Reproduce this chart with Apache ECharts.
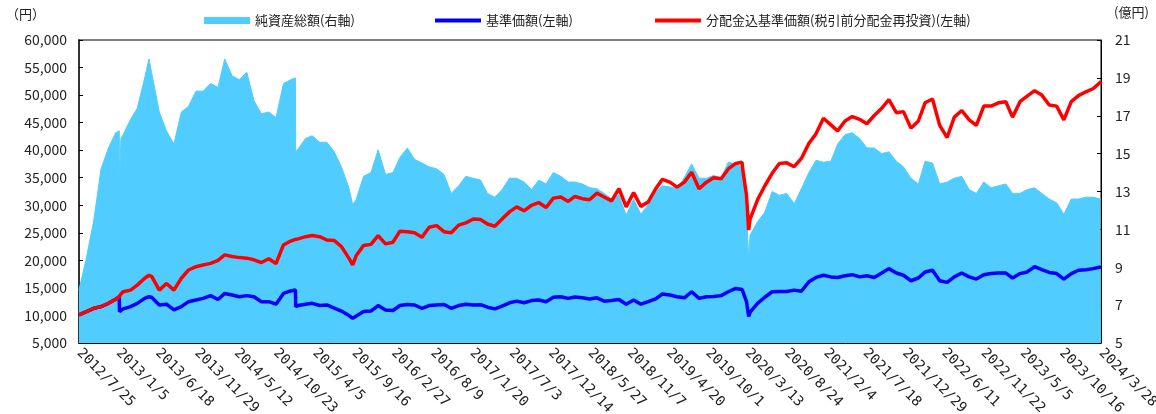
<!DOCTYPE html>
<html>
<head>
<meta charset="utf-8">
<script src="https://cdn.jsdelivr.net/npm/echarts@6.0.0/dist/echarts.min.js"></script>
<style>
  html, body { margin: 0; padding: 0; background: #fff; }
  #main { width: 1156px; height: 414px; }
</style>
</head>
<body>
<div id="main"></div>
<script>
// sample dates (roughly monthly, plus a few extra days around distributions / crashes)
const dates = [
  '2012/7/25', '2012/8/25', '2012/9/25', '2012/10/25', '2012/11/25', '2012/12/25',
  '2013/1/9', '2013/1/10', '2013/1/16', '2013/1/25', '2013/2/25', '2013/3/25', '2013/4/25', '2013/5/13', '2013/5/25', '2013/6/25', '2013/7/25', '2013/8/25', '2013/9/25', '2013/10/25', '2013/11/25', '2013/12/25',
  '2014/1/25', '2014/2/25', '2014/3/25', '2014/4/25', '2014/5/25', '2014/6/25', '2014/7/25', '2014/8/25', '2014/9/25', '2014/10/25', '2014/11/25', '2014/12/25',
  '2015/1/14', '2015/1/15', '2015/1/25', '2015/2/25', '2015/3/25', '2015/4/25', '2015/5/25', '2015/6/25', '2015/7/25', '2015/8/25', '2015/9/10', '2015/9/25', '2015/10/25', '2015/11/25', '2015/12/25',
  '2016/1/25', '2016/2/25', '2016/3/25', '2016/4/25', '2016/5/25', '2016/6/25', '2016/7/25', '2016/8/25', '2016/9/25', '2016/10/25', '2016/11/25', '2016/12/25',
  '2017/1/25', '2017/2/25', '2017/3/25', '2017/4/25', '2017/5/25', '2017/6/25', '2017/7/25', '2017/8/25', '2017/9/25', '2017/10/25', '2017/11/25', '2017/12/25',
  '2018/1/25', '2018/2/25', '2018/3/25', '2018/4/25', '2018/5/25', '2018/6/25', '2018/7/25', '2018/8/25', '2018/9/25', '2018/10/25', '2018/11/25', '2018/12/25',
  '2019/1/25', '2019/2/25', '2019/3/25', '2019/4/25', '2019/5/25', '2019/6/25', '2019/7/25', '2019/8/25', '2019/9/25', '2019/10/25', '2019/11/25', '2019/12/25',
  '2020/1/25', '2020/2/20', '2020/2/25', '2020/3/10', '2020/3/19', '2020/3/25', '2020/4/25', '2020/5/25', '2020/6/25', '2020/7/25', '2020/8/25', '2020/9/25', '2020/10/25', '2020/11/25', '2020/12/25',
  '2021/1/25', '2021/2/25', '2021/3/25', '2021/4/25', '2021/5/25', '2021/6/25', '2021/7/25', '2021/8/25', '2021/9/25', '2021/10/25', '2021/11/25', '2021/12/25',
  '2022/1/25', '2022/2/25', '2022/3/25', '2022/4/25', '2022/5/25', '2022/6/25', '2022/7/25', '2022/8/25', '2022/9/25', '2022/10/25', '2022/11/25', '2022/12/25',
  '2023/1/25', '2023/2/25', '2023/3/25', '2023/4/25', '2023/5/25', '2023/6/25', '2023/7/25', '2023/8/25', '2023/9/25', '2023/10/25', '2023/11/25', '2023/12/25',
  '2024/1/25', '2024/2/25', '2024/3/25', '2024/3/28'
];

// 純資産総額 (億円, right axis)
const netAssets = [
  7.8, 9.5, 11.5, 14.2, 15.3, 16.1,
  16.2, 13.3, 15.8, 16.0, 16.8, 17.4, 19.0, 20.0, 19.2, 17.2, 16.2, 15.5, 17.2, 17.5, 18.3, 18.3,
  18.7, 18.5, 20.0, 19.1, 18.9, 19.3, 17.8, 17.1, 17.2, 16.9, 18.7, 18.9,
  19.0, 15.1, 15.25, 15.8, 15.95, 15.6, 15.6, 15.1, 14.3, 13.2, 12.3, 12.6, 13.8, 14.0, 15.2,
  13.9, 14.0, 14.8, 15.3, 14.7, 14.5, 14.3, 14.2, 13.9, 12.9, 13.3, 13.8,
  13.7, 13.6, 12.9, 12.7, 13.1, 13.7, 13.7, 13.5, 13.1, 13.6, 13.4, 14.0,
  13.8, 13.5, 13.5, 13.4, 13.2, 13.15, 12.9, 12.6, 12.8, 11.75, 12.6, 11.8,
  12.3, 13.0, 13.3, 13.25, 13.15, 13.75, 14.45, 13.7, 13.7, 13.85, 13.7, 14.55,
  14.45, 14.3, 13.85, 11.9, 9.5, 10.7, 11.4, 11.9, 13.0, 12.8, 12.9, 12.35, 13.15, 14.0, 14.65,
  14.55, 14.6, 15.5, 16.0, 16.1, 15.8, 15.3, 15.3, 15.0, 15.1, 14.6, 14.3,
  13.7, 13.4, 14.6, 14.5, 13.4, 13.5, 13.7, 13.8, 13.1, 12.9, 13.5, 13.2,
  13.3, 13.4, 12.9, 12.9, 13.1, 13.2, 12.9, 12.6, 12.4, 11.8, 12.6, 12.6,
  12.7, 12.7, 12.6, 12.6
];

// 基準価額 (円, left axis)
const basePrice = [
  10100, 10700, 11300, 11600, 12200, 12950,
  13400, 10700, 11000, 11200, 11600, 12200, 13100, 13400, 13250, 11900, 12050, 11000, 11600, 12500, 12800, 13100,
  13600, 12900, 14000, 13700, 13400, 13600, 13400, 12500, 12500, 12050, 14000, 14450,
  14650, 11600, 11800, 12050, 12200, 11800, 11900, 11350, 10800, 10000, 9500, 9900, 10700, 10800, 11800,
  11000, 10900, 11800, 12000, 11900, 11300, 11800, 11900, 12000, 11300, 11800, 12050,
  11900, 11950, 11500, 11200, 11700, 12300, 12600, 12300, 12700, 12800, 12500, 13300,
  13400, 13100, 13350, 13200, 13000, 13200, 12600, 12700, 12900, 12050, 12800, 12050,
  12500, 13000, 13900, 13700, 13400, 13200, 14300, 13100, 13400, 13450, 13600, 14300,
  14900, 14700, 14200, 12500, 9800, 10600, 12200, 13300, 14300, 14350, 14350, 14600, 14400, 16100, 16900,
  17300, 17000, 16900, 17200, 17400, 17000, 17200, 16900, 17700, 18500, 17700, 17300,
  16300, 16800, 17900, 18200, 16300, 16000, 17000, 17700, 17000, 16600, 17400, 17600,
  17700, 17700, 16800, 17600, 17900, 18850, 18300, 17800, 17600, 16600, 17600, 18200,
  18300, 18500, 18800, 18900
];

// 分配金込基準価額 (円, left axis)
const reinvestPrice = [
  10100, 10700, 11300, 11600, 12200, 12950,
  13400, 13300, 13900, 14300, 14600, 15500, 16750, 17300, 17050, 14600, 15800, 14600, 16750, 18250, 18850, 19150,
  19450, 20000, 21000, 20700, 20500, 20400, 20100, 19600, 20300, 19400, 22800, 23500,
  23800, 23800, 23900, 24300, 24500, 24300, 23700, 23600, 22500, 20400, 19200, 20900, 22700, 22900, 24500,
  23000, 23300, 25300, 25200, 25000, 24200, 26000, 26300, 25200, 25000, 26400, 26800,
  27500, 27400, 26600, 26200, 27500, 28800, 29700, 29000, 30000, 30500, 29600, 31300,
  31500, 30700, 31600, 31200, 31000, 32200, 31500, 30800, 33000, 29700, 32300, 29800,
  30600, 33000, 34700, 34200, 33300, 34200, 36000, 33000, 34200, 35000, 34800, 36600,
  37600, 37800, 36000, 31800, 25500, 27500, 31000, 33500, 35800, 37600, 37700, 37000, 38500, 41200, 43000,
  45800, 44600, 43500, 45300, 46100, 45600, 44800, 46300, 47600, 49200, 46800, 47000,
  44000, 45300, 48600, 49300, 44500, 42300, 46000, 47200, 45500, 44500, 48000, 48000,
  48600, 48800, 46000, 48800, 49800, 50800, 50000, 48200, 48000, 45500, 48800, 49900,
  50600, 51200, 52300, 52500
];

const tickLabels = [
  '2012/7/25', '2013/1/5', '2013/6/18', '2013/11/29', '2014/5/12', '2014/10/23', '2015/4/5',
  '2015/9/16', '2016/2/27', '2016/8/9', '2017/1/20', '2017/7/3', '2017/12/14', '2018/5/27',
  '2018/11/7', '2019/4/20', '2019/10/1', '2020/3/13', '2020/8/24', '2021/2/4', '2021/7/18',
  '2021/12/29', '2022/6/11', '2022/11/22', '2023/5/5', '2023/10/16', '2024/3/28'
];

const toDay = s => {
  const [y, m, d] = s.split('/').map(Number);
  return Date.UTC(y, m - 1, d) / 86400000;
};
const day0 = toDay(tickLabels[0]);
const step = toDay(tickLabels[1]) - day0;
const lastDay = toDay(tickLabels[tickLabels.length - 1]) - day0;
const xs = dates.map(d => toDay(d) - day0);
const pairs = arr => xs.map((x, i) => [x, arr[i]]);

const font = '"Noto Sans CJK JP", sans-serif';
const txt = '#222';
const areaColor = '#50cdfe';

const chart = echarts.init(document.getElementById('main'));
chart.setOption({
  animation: false,
  textStyle: { fontFamily: font },
  grid: {
    left: 79, right: 55, top: 40, bottom: 71, show: true, borderColor: '#000', borderWidth: 1,
    containLabel: false, outerBoundsMode: 'none'
  },
  legend: [
    { left: 199, top: 9, itemWidth: 46, itemHeight: 7, icon: 'rect', data: ['純資産総額(右軸)'],
      textStyle: { fontSize: 13, color: txt, fontFamily: font } },
    { left: 430, top: 9, itemWidth: 46, itemHeight: 4, icon: 'rect', data: ['基準価額(左軸)'],
      textStyle: { fontSize: 13, color: txt, fontFamily: font } },
    { left: 650, top: 9, itemWidth: 46, itemHeight: 4, icon: 'rect', data: ['分配金込基準価額(税引前分配金再投資)(左軸)'],
      textStyle: { fontSize: 13, color: txt, fontFamily: font } }
  ],
  graphic: [
    { type: 'text', left: 6, top: 8, style: { text: '（円）', font: '13px ' + font, fill: txt } },
    { type: 'text', left: 1114, top: 6, style: { text: '(億円)', font: '13px ' + font, fill: txt } }
  ],
  xAxis: {
    type: 'value', min: 0, max: lastDay, interval: step,
    axisLine: { lineStyle: { color: '#000', width: 1 } },
    axisTick: { inside: true, length: 4, lineStyle: { color: '#000' } },
    splitLine: { show: false },
    axisLabel: {
      rotate: -45, margin: 8, fontSize: 14, color: txt, fontFamily: '"DejaVu Sans Mono", monospace',
      formatter: v => tickLabels[Math.round(v / step)] || ''
    }
  },
  yAxis: [
    {
      type: 'value', min: 5000, max: 60000, interval: 5000, position: 'left',
      axisLine: { show: true, lineStyle: { color: '#333', width: 2 } },
      axisTick: { show: true, inside: true, length: 4, lineStyle: { color: '#000' } },
      splitLine: { show: false },
      axisLabel: { margin: 12, fontSize: 14, color: txt, fontFamily: font,
        formatter: v => v.toLocaleString('en-US') }
    },
    {
      type: 'value', min: 5, max: 21, interval: 2, position: 'right',
      axisLine: { show: true, lineStyle: { color: '#000', width: 1 } },
      axisTick: { show: true, inside: true, length: 4, lineStyle: { color: '#000' } },
      splitLine: { show: false },
      axisLabel: { margin: 14, fontSize: 14, color: txt, fontFamily: font }
    }
  ],
  series: [
    {
      name: '純資産総額(右軸)', type: 'line', yAxisIndex: 1, data: pairs(netAssets),
      showSymbol: false, symbol: 'none',
      lineStyle: { width: 1, color: areaColor }, itemStyle: { color: areaColor },
      areaStyle: { color: areaColor, opacity: 1, origin: 'start' }
    },
    {
      name: '基準価額(左軸)', type: 'line', data: pairs(basePrice),
      showSymbol: false, symbol: 'none',
      lineStyle: { width: 3.5, color: '#0000ff' }, itemStyle: { color: '#0000ff' }
    },
    {
      name: '分配金込基準価額(税引前分配金再投資)(左軸)', type: 'line', data: pairs(reinvestPrice),
      showSymbol: false, symbol: 'none',
      lineStyle: { width: 3.5, color: '#ff0000' }, itemStyle: { color: '#ff0000' }
    }
  ]
});
</script>
</body>
</html>
